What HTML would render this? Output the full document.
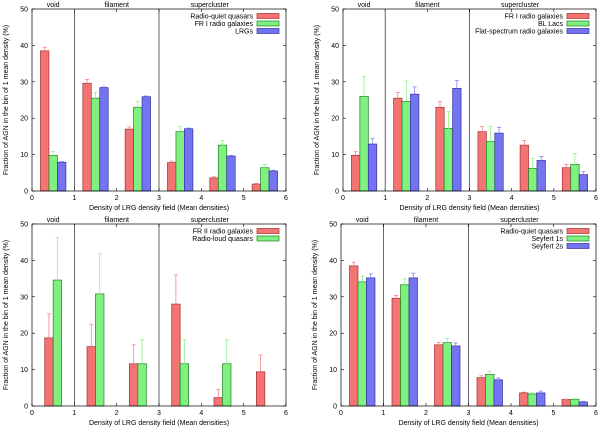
<!DOCTYPE html>
<html><head><meta charset="utf-8"><style>
html,body{margin:0;padding:0;background:#fff;}
svg{display:block;font-family:"Liberation Sans",sans-serif;}
text{font-size:7px;fill:#000;}
</style></head><body>
<svg id="c" width="600" height="431"></svg>
<script>
const bins=[0,1,2,3,4,5];
const yTicks=[0,10,20,30,40,50];
const xTicks=[0,1,2,3,4,5,6];
const p1Names=["Radio-quiet quasars","FR I radio galaxies","LRGs"];
const p1Red=[38.5,29.6,17,7.8,3.6,1.9], p1RedErr=[1,1,0.6,0.4,0.3,0.2];
const p1Green=[9.8,25.5,23,16.3,12.6,6.4], p1GreenErr=[1,1.6,1.6,1.4,1.3,0.9];
const p1Blue=[7.9,28.4,25.9,17.1,9.6,5.5], p1BlueErr=[0.2,0.2,0.2,0.2,0.2,0.2];
const p2Names=["FR I radio galaxies","BL Lacs","Flat-spectrum radio galaxies"];
const p2Red=[9.8,25.5,23,16.3,12.6,6.4], p2RedErr=[1,1.6,1.6,1.4,1.3,0.9];
const p2Green=[26,24.6,17.2,13.6,6.2,7.3], p2GreenErr=[5.5,5.6,4.6,4.2,2.7,3];
const p2Blue=[12.9,26.6,28.2,15.9,8.4,4.5], p2BlueErr=[1.5,2,2.2,1.6,1.1,0.8];
const p3Names=["FR II radio galaxies","Radio-loud quasars"];
const p3Red=[18.7,16.3,11.6,28,2.3,9.4], p3RedErr=[6.6,6.2,5.2,8,2.3,4.6];
const p3Green=[34.6,30.8,11.6,11.6,11.6,0], p3GreenErr=[11.7,11,6.6,6.6,6.6,0];
const p4Names=["Radio-quiet quasars","Seyfert 1s","Seyfert 2s"];
const p4Red=[38.5,29.6,16.8,7.8,3.6,1.8], p4RedErr=[1,0.8,0.7,0.5,0.2,0.1];
const p4Green=[34.1,33.3,17.4,8.7,3.3,1.8], p4GreenErr=[1.6,1.6,1.2,0.9,0.3,0.2];
const p4Blue=[35.2,35.2,16.5,7.2,3.6,1.1], p4BlueErr=[1.1,1.3,0.8,0.5,0.5,0.2];

const NS="http://www.w3.org/2000/svg";
const svg=document.getElementById('c');
const fills=["#f47474","#80f080","#7474f0"], strokes=["#a03030","#208020","#3030a0"];
function mk(tag,attrs,parent,txt){const e=document.createElementNS(NS,tag);for(const k in attrs)e.setAttribute(k,attrs[k]);if(txt!==undefined)e.textContent=txt;parent.appendChild(e);return e;}

function panel(id,L,R,T,B,names,series,errs){
  const g=mk('g',{},svg);
  
  
  const sx=v=>L+(R-L)*v/6, sy=v=>B-(B-T)*v/50;
  // ticks
  yTicks.forEach(t=>{
    mk('line',{x1:L,x2:L+3,y1:sy(t),y2:sy(t),stroke:'#000','stroke-width':0.6},g);
    mk('line',{x1:R,x2:R-3,y1:sy(t),y2:sy(t),stroke:'#000','stroke-width':0.6},g);
    const tx=mk('text',{x:L-4,y:sy(t)+2.5,'text-anchor':'end'},g,t);
    
    
  });
  xTicks.forEach(t=>{
    mk('line',{x1:sx(t),x2:sx(t),y1:B,y2:B-3,stroke:'#000','stroke-width':0.6},g);
    mk('line',{x1:sx(t),x2:sx(t),y1:T,y2:T+3,stroke:'#000','stroke-width':0.6},g);
    const tx=mk('text',{x:sx(t),y:B+9,'text-anchor':'middle'},g,t);
    
    
  });
  [1,3].forEach(v=>mk('line',{x1:sx(v),x2:sx(v),y1:T,y2:B,stroke:'#000','stroke-width':0.6},g));
  [["void",0.5],["filament",2],["supercluster",4.2]].forEach(r=>{
    const tx=mk('text',{x:sx(r[1]),y:T-2,'text-anchor':'middle'},g,r[0]);
    
    
  });
  const n=series.length, w=0.2, start=n===3?0.2:0.3;
  series.forEach((s,k)=>{
    s.forEach((v,i)=>{
      if(v<=0)return;
      const x0=bins[i]+start+k*w;
      const r=mk('rect',{x:sx(x0),y:sy(v),width:sx(x0+w)-sx(x0),height:sy(0)-sy(v),fill:fills[k],stroke:strokes[k],'stroke-width':0.7},g);
      
      
      const e=errs[k][i], cx=sx(x0+w/2);
      if(e>0){
        mk('line',{x1:cx,x2:cx,y1:sy(v-e),y2:sy(v+e),stroke:fills[k],'stroke-width':0.7},g);
        mk('line',{x1:cx-2,x2:cx+2,y1:sy(v+e),y2:sy(v+e),stroke:fills[k],'stroke-width':0.7},g);
        mk('line',{x1:cx-2,x2:cx+2,y1:sy(v-e),y2:sy(v-e),stroke:fills[k],'stroke-width':0.7},g);
      }
    });
  });
  mk('rect',{x:L,y:T,width:R-L,height:B-T,fill:'none',stroke:'#000','stroke-width':0.7},g);
  names.forEach((nm,k)=>{
    const y=T+7+k*7.5;
    const tx=mk('text',{x:R-33,y:y+2.5,'text-anchor':'end'},g,nm);
    
    
    mk('rect',{x:R-29,y:y-2.5,width:22,height:5,fill:fills[k],stroke:strokes[k],'stroke-width':0.7},g);
  });
  const xl=mk('text',{x:(L+R)/2,y:B+19,'text-anchor':'middle'},g,'Density of LRG density field (Mean densities)');
  
  
  const cy=(T+B)/2, lx=L-24;
  const yl=mk('text',{x:lx,y:cy,'text-anchor':'middle',transform:`rotate(-90 ${lx} ${cy})`},g,'Fraction of AGN in the bin of 1 mean density (%)');
  
  
}
panel('panel-radio-quiet-fr1-lrg',32,286,9,191,p1Names,[p1Red,p1Green,p1Blue],[p1RedErr,p1GreenErr,p1BlueErr]);
panel('panel-fr1-bllac-flat',343,596,9,191,p2Names,[p2Red,p2Green,p2Blue],[p2RedErr,p2GreenErr,p2BlueErr]);
panel('panel-fr2-radio-loud',32,286,224,406,p3Names,[p3Red,p3Green],[p3RedErr,p3GreenErr]);
panel('panel-quasars-seyferts',341,596,224,406,p4Names,[p4Red,p4Green,p4Blue],[p4RedErr,p4GreenErr,p4BlueErr]);
</script>
</body></html>
